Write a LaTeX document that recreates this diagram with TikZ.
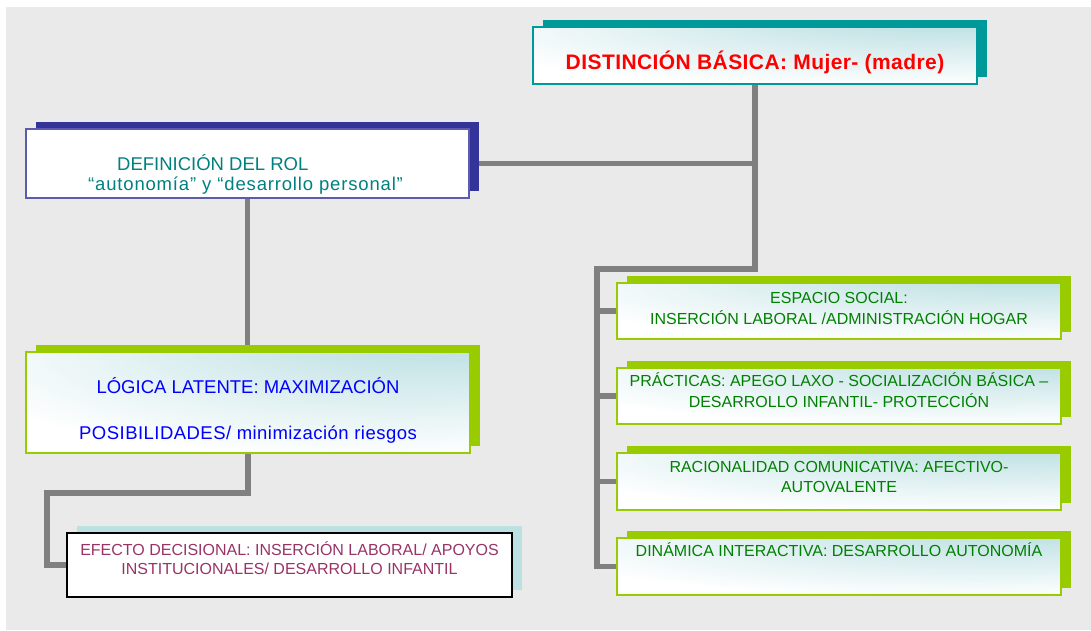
\documentclass[tikz,border=0pt]{standalone}
\usepackage{fontspec}
\setmainfont{Liberation Sans}
\usetikzlibrary{shadows,backgrounds}
\definecolor{fondo}{HTML}{EAEAEA}
\definecolor{linea}{HTML}{808080}
\definecolor{turquesa}{HTML}{009999}
\definecolor{marino}{HTML}{333399}
\definecolor{lima}{HTML}{99CC00}
\definecolor{celeste}{HTML}{BDE0E3}
\definecolor{verdetxt}{HTML}{008000}
\definecolor{tealtxt}{HTML}{008080}
\definecolor{granate}{HTML}{993366}
\pgfdeclareradialshading{esquina}{\pgfpoint{25bp}{40bp}}{color(0bp)=(celeste); color(8bp)=(celeste); color(30bp)=(white!55!celeste); color(48bp)=(white); color(100bp)=(white)}
\begin{document}
\begin{tikzpicture}[x=1pt,y=-1pt,
    caja/.style={rectangle, minimum width=444pt, inner sep=0pt, shade, shading=esquina},
    sombra/.style={general shadow={fill=#1, shadow xshift=10pt, shadow yshift=7pt}},
    enlace/.style={draw=linea, line width=5.5pt},
    texto/.style={align=center, inner sep=0pt, font=\fontsize{16}{21}\selectfont}]
  \useasboundingbox (0,0) rectangle (1091,630);

  \node[caja, sombra=turquesa, draw=turquesa, line width=1.5pt, minimum height=57pt] (distincion) at (755,55.5) {};
  \node[rectangle, sombra=marino, fill=white, draw=marino!80, line width=1.2pt, minimum width=443pt, minimum height=69pt] (definicion) at (247.5,163.5) {};
  \node[caja, sombra=lima, draw=lima, line width=1.5pt, minimum height=101pt] (logica) at (248,402.5) {};
  \node[rectangle, sombra=celeste, fill=white, draw=black, line width=1.6pt, minimum width=445pt, minimum height=64pt] (efecto) at (289.5,565) {};
  \node[caja, sombra=lima, draw=lima, line width=1.5pt, minimum height=56pt] (espacio) at (839,311) {};
  \node[caja, sombra=lima, draw=lima, line width=1.5pt, minimum height=56pt] (practicas) at (839,396) {};
  \node[caja, sombra=lima, draw=lima, line width=1.5pt, minimum height=57pt] (racionalidad) at (839,481.5) {};
  \node[caja, sombra=lima, draw=lima, line width=1.5pt, minimum height=57pt] (dinamica) at (839,566.5) {};

  \node[texto, text=red, font=\fontsize{21}{25}\bfseries\addfontfeatures{LetterSpace=2}] (distincion-t) at (755,62.5) {DISTINCIÓN BÁSICA: Mujer- (madre)};
  \node[texto, align=left, anchor=west, text=tealtxt, font=\fontsize{18.5}{20}\selectfont] (definicion-t) at (88,174)
    {\hspace*{29pt}DEFINICIÓN DEL ROL\\{\addfontfeatures{LetterSpace=4.5}“autonomía” y “desarrollo personal”}};
  \node[texto, text=blue, font=\fontsize{18.5}{46}\selectfont] (logica-t) at (248,410)
    {LÓGICA LATENTE: MAXIMIZACIÓN\\{\addfontfeatures{LetterSpace=2.5}POSIBILIDADES/ minimización riesgos}};
  \node[texto, text=granate, font=\fontsize{16}{19}\selectfont] (efecto-t) at (289.5,558)
    {EFECTO DECISIONAL: INSERCIÓN LABORAL/ APOYOS\\INSTITUCIONALES/ DESARROLLO INFANTIL};
  \node[texto, text=verdetxt] (espacio-t) at (839,308)
    {ESPACIO SOCIAL:\\INSERCIÓN LABORAL /ADMINISTRACIÓN HOGAR};
  \node[texto, text=verdetxt] (practicas-t) at (839,390)
    {PRÁCTICAS: APEGO LAXO - SOCIALIZACIÓN BÁSICA –\\DESARROLLO INFANTIL- PROTECCIÓN};
  \node[texto, text=verdetxt, font=\fontsize{16}{20}\selectfont] (racionalidad-t) at (839,477)
    {RACIONALIDAD COMUNICATIVA: AFECTIVO-\\AUTOVALENTE};
  \node[texto, text=verdetxt] (dinamica-t) at (839,549.5)
    {DINÁMICA INTERACTIVA: DESARROLLO AUTONOMÍA};

  \coordinate (tronco) at (597,269);
  \coordinate (codo) at (47,493);

  \begin{scope}[on background layer]
    \fill[fondo] (6,7) rectangle (1091,630);
    \draw[enlace] (distincion.south) |- (tronco) |- (dinamica.west);
    \draw[enlace] (tronco |- espacio.west) -- (espacio.west);
    \draw[enlace] (tronco |- practicas.west) -- (practicas.west);
    \draw[enlace] (tronco |- racionalidad.west) -- (racionalidad.west);
    \draw[enlace] (definicion.east) -- (definicion.east -| distincion.south);
    \draw[enlace] (definicion.south) -- (definicion.south |- logica.north);
    \draw[enlace] (logica.south) |- (codo) |- (efecto.west);
  \end{scope}
\end{tikzpicture}
\end{document}
